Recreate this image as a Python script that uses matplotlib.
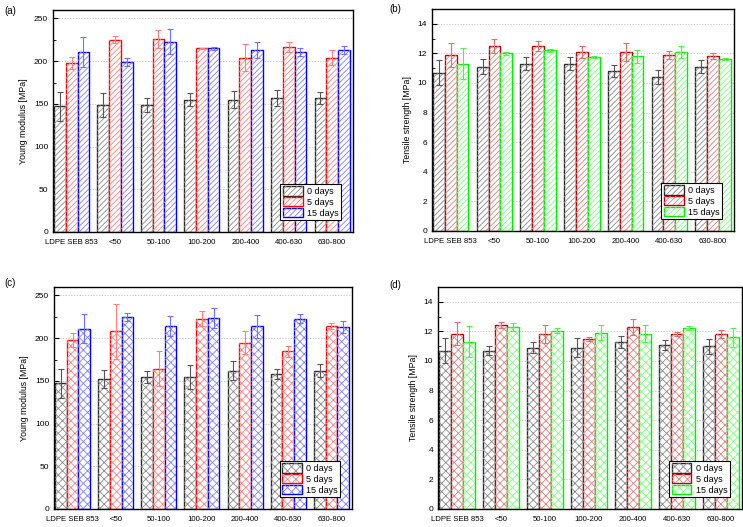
import numpy as np
import matplotlib
matplotlib.use("Agg")
import matplotlib.pyplot as plt
from matplotlib.patches import Patch
from matplotlib.legend_handler import HandlerTuple


groups = ["LDPE SEB 853", "<50", "50-100", "100-200", "200-400", "400-630", "630-800"]
days = ["0 days", "5 days", "15 days"]

# (a) Young modulus, diagonal hatch
a_0 = [147, 149, 149, 155, 155, 157, 157]
a_0_err = [17, 14, 8, 8, 10, 9.5, 7]
a_5 = [198, 225, 226, 215, 204, 217, 204]
a_5_err = [7.5, 4, 11, 0.5, 16, 6, 9]
a_15 = [211, 199, 223, 215, 213, 211, 213]
a_15_err = [17.5, 4.5, 15, 1.5, 9.5, 4.5, 4.5]

# (b) Tensile strength, diagonal hatch
b_0 = [10.7, 11.1, 11.3, 11.3, 10.8, 10.4, 11.1]
b_0_err = [0.85, 0.5, 0.45, 0.45, 0.4, 0.5, 0.45]
b_5 = [11.9, 12.5, 12.5, 12.1, 12.1, 11.9, 11.8]
b_5_err = [0.8, 0.5, 0.33, 0.4, 0.6, 0.28, 0.2]
b_15 = [11.3, 12.0, 12.2, 11.75, 11.8, 12.1, 11.6]
b_15_err = [1.05, 0.1, 0.12, 0.07, 0.42, 0.4, 0.06]

# (c) Young modulus, cross hatch
c_0 = [147, 152, 154, 155, 162, 158.5, 162]
c_0_err = [16.5, 10.5, 7, 14, 11, 6, 8]
c_5 = [197.5, 208, 164.5, 223, 194.5, 184.5, 214.5]
c_5_err = [8, 32, 21, 8.5, 13.5, 6.5, 3.5]
c_15 = [211, 225, 214, 224, 214, 223, 213.5]
c_15_err = [17, 5, 11.5, 11.5, 13.5, 5, 7]

# (d) Tensile strength, cross hatch
d_0 = [10.7, 10.7, 10.9, 10.9, 11.3, 11.1, 11.0]
d_0_err = [0.85, 0.28, 0.35, 0.65, 0.4, 0.33, 0.5]
d_5 = [11.85, 12.4, 11.8, 11.5, 12.3, 11.85, 11.85]
d_5_err = [0.8, 0.2, 0.6, 0.13, 0.55, 0.13, 0.27]
d_15 = [11.3, 12.3, 12.05, 11.9, 11.85, 12.2, 11.6]
d_15_err = [1.05, 0.28, 0.18, 0.5, 0.55, 0.13, 0.65]


plt.rcParams["font.family"] = ["Liberation Sans", "DejaVu Sans"]
plt.rcParams["hatch.linewidth"] = 0.6

# edge colour, hatch colour, error bar colour
BLUE_SET = [("#2a2a2a", "#8a8a8a", "#555555"),
            ("#ff0000", "#ff8080", "#ff8080"),
            ("#0000ff", "#8080ff", "#7070ff")]
GREEN_SET = [("#2a2a2a", "#8a8a8a", "#555555"),
             ("#c00000", "#e08080", "#e07070"),
             ("#00ee00", "#80ff80", "#55ee55")]

WIDTH = 0.27


def draw_panel(ax, series, errors, colors, hatch, ylim, major, minor, ylabel):
    x = np.arange(1, len(groups) + 1)
    for i, (vals, errs) in enumerate(zip(series, errors)):
        edge, hcol, ecol = colors[i]
        pos = x + (i - 1) * WIDTH
        # white bar with solid outline, hatch layer on top of it
        ax.bar(pos, vals, WIDTH, color="white", edgecolor=edge,
               linewidth=1.0, zorder=2)
        hb = ax.bar(pos, vals, WIDTH, color="none", edgecolor=hcol,
                    linewidth=0.0, zorder=2.5)
        for p in hb:
            p.set_hatch(hatch)
            p.set_edgecolor(hcol)
        ax.errorbar(pos, vals, yerr=errs, fmt="none", ecolor=ecol,
                    elinewidth=0.8, capsize=2, capthick=0.8, zorder=4)

    ax.set_xlim(0.57, 7.48)
    ax.set_ylim(*ylim)
    ax.set_xticks(x)
    ax.set_xticklabels(groups)
    ax.set_yticks(np.arange(0, ylim[1] + 0.01, major))
    ax.set_yticks(np.arange(0, ylim[1] + 0.01, minor), minor=True)
    ax.tick_params(axis="x", which="major", direction="in", length=3.5,
                   labelsize=5.6, width=0.8, pad=5)
    ax.tick_params(axis="y", which="major", direction="in", length=3.5,
                   labelsize=6, width=0.8)
    ax.tick_params(axis="y", which="minor", direction="in", length=2, width=0.6)
    ax.yaxis.grid(True, linestyle=(0, (2, 2)), color="#bbbbbb", linewidth=0.5,
                  zorder=0)
    ax.set_axisbelow(True)
    ax.set_ylabel(ylabel, fontsize=6.3, labelpad=4)
    for s in ax.spines.values():
        s.set_linewidth(1.0)

    handles = []
    for i in range(3):
        edge, hcol, _ = colors[i]
        base = Patch(facecolor="white", edgecolor=edge, linewidth=1.0)
        fill = Patch(facecolor="none", edgecolor=hcol, hatch=hatch, linewidth=0)
        handles.append((base, fill))
    leg = ax.legend(handles=handles, labels=days, loc="lower right",
                    handler_map={tuple: HandlerTuple(ndivide=1, pad=0)},
                    bbox_to_anchor=(0.96, 0.055), borderaxespad=0,
                    fontsize=6.5, fancybox=False, framealpha=1,
                    edgecolor="black", handlelength=2.2, handleheight=1.2,
                    labelspacing=0.12, borderpad=0.25, handletextpad=0.5)
    leg.get_frame().set_linewidth(0.8)


fig = plt.figure(figsize=(7.43, 5.27), dpi=100)

ax_a = fig.add_axes([0.0713, 0.5598, 0.4038, 0.4213])
ax_b = fig.add_axes([0.5814, 0.5617, 0.4065, 0.4213])
ax_c = fig.add_axes([0.0727, 0.0342, 0.4011, 0.4213])
ax_d = fig.add_axes([0.5895, 0.0342, 0.4091, 0.4213])

draw_panel(ax_a, [a_0, a_5, a_15], [a_0_err, a_5_err, a_15_err], BLUE_SET,
           "//////", (0, 260), 50, 25, "Young modulus [MPa]")
draw_panel(ax_b, [b_0, b_5, b_15], [b_0_err, b_5_err, b_15_err], GREEN_SET,
           "//////", (0, 15), 2, 1, "Tensile strength [MPa]")
draw_panel(ax_c, [c_0, c_5, c_15], [c_0_err, c_5_err, c_15_err], BLUE_SET,
           "xxxx", (0, 260), 50, 25, "Young modulus [MPa]")
draw_panel(ax_d, [d_0, d_5, d_15], [d_0_err, d_5_err, d_15_err], GREEN_SET,
           "xxxx", (0, 15), 2, 1, "Tensile strength [MPa]")

fig.text(4 / 743, 1 - 11 / 527, "(a)", fontsize=7, va="center")
fig.text(389 / 743, 1 - 9 / 527, "(b)", fontsize=7, va="center")
fig.text(4 / 743, 1 - 283 / 527, "(c)", fontsize=7, va="center")
fig.text(389 / 743, 1 - 285 / 527, "(d)", fontsize=7, va="center")

fig.savefig("out.png", dpi=100)
plt.close(fig)
